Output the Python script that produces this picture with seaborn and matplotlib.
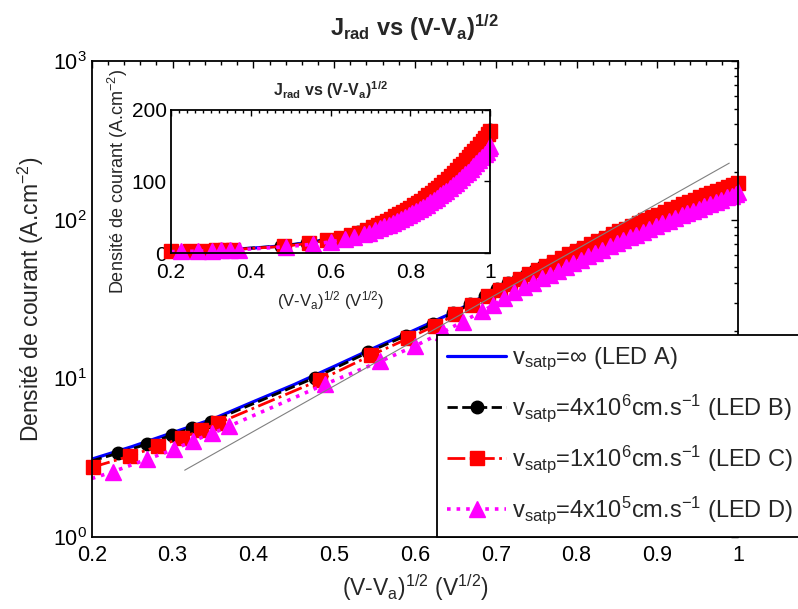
import matplotlib
matplotlib.use('Agg')
import matplotlib.pyplot as plt
from matplotlib.ticker import AutoMinorLocator, FixedLocator, FixedFormatter, NullFormatter
import seaborn as sns

# values
# LED A : v_satp = infinity (line only)
led_a_x = [0.20, 0.25, 0.30, 0.35, 0.40, 0.45, 0.50, 0.55, 0.60, 0.65, 0.70, 0.75,
           0.80, 0.85, 0.90, 0.95, 1.00]
led_a_y = [3.10, 3.72, 4.55, 5.55, 7.13, 9.12, 11.9, 15.6, 20.2, 26.4, 36.2, 48.3,
           64.0, 83.3, 108.0, 137.0, 172.0]

# LED B : v_satp = 4e6 cm/s
led_b_x = [0.200, 0.232, 0.268, 0.299, 0.324, 0.347, 0.476, 0.542, 0.589, 0.622, 0.647,
           0.668, 0.687, 0.702, 0.715, 0.727, 0.738, 0.749, 0.759, 0.769, 0.779, 0.788,
           0.797, 0.806, 0.815, 0.824, 0.833, 0.842, 0.850, 0.858, 0.866, 0.874, 0.882,
           0.890, 0.898, 0.906, 0.914, 0.922, 0.929, 0.936, 0.943, 0.950, 0.957, 0.964,
           0.971, 0.978, 0.984, 0.991, 1.000]
led_b_y = [3.02, 3.37, 3.85, 4.39, 4.88, 5.33, 10.1, 14.6, 18.6, 22.0, 25.7,
           29.3, 33.0, 36.4, 39.7, 42.0, 44.9, 47.9, 50.8, 53.8, 56.9, 59.9,
           63.0, 66.1, 69.4, 72.9, 76.5, 80.2, 83.6, 87.2, 90.9, 94.6, 98.5,
           102.6, 106.7, 111.0, 115.4, 120.0, 124.0, 128.2, 132.5, 136.9, 141.4, 146.0,
           150.7, 155.5, 159.7, 164.6, 171.0]

# LED C : v_satp = 1e6 cm/s
led_c_x = [0.201, 0.247, 0.282, 0.312, 0.335, 0.356, 0.482, 0.546, 0.592, 0.625, 0.650,
           0.671, 0.690, 0.705, 0.718, 0.730, 0.741, 0.752, 0.762, 0.772, 0.782, 0.791,
           0.800, 0.809, 0.818, 0.827, 0.836, 0.845, 0.853, 0.861, 0.869, 0.877, 0.885,
           0.893, 0.901, 0.909, 0.917, 0.925, 0.932, 0.939, 0.946, 0.953, 0.960, 0.967,
           0.974, 0.981, 0.987, 0.994, 1.000]
led_c_y = [2.76, 3.24, 3.74, 4.22, 4.72, 5.21, 9.75, 14.0, 17.9, 21.5, 25.3,
           29.0, 32.8, 36.2, 39.6, 42.5, 45.4, 48.4, 51.3, 54.3, 57.4, 60.4,
           63.5, 66.7, 70.0, 73.5, 77.1, 80.8, 84.3, 87.9, 91.6, 95.4, 99.3,
           103.4, 107.5, 111.9, 116.3, 120.9, 125.0, 129.2, 133.5, 137.9, 142.5, 147.1,
           151.8, 156.7, 160.9, 166.0, 170.5]

# LED D : v_satp = 4e5 cm/s
led_d_x = [0.200, 0.226, 0.268, 0.302, 0.325, 0.349, 0.370, 0.489, 0.557, 0.600, 0.635,
           0.659, 0.683, 0.696, 0.710, 0.723, 0.735, 0.746, 0.757, 0.767, 0.777, 0.787,
           0.796, 0.805, 0.814, 0.823, 0.832, 0.841, 0.850, 0.858, 0.866, 0.874, 0.882,
           0.890, 0.898, 0.906, 0.914, 0.922, 0.930, 0.937, 0.944, 0.951, 0.958, 0.965,
           0.972, 0.979, 0.986, 0.992, 0.997, 1.000]
led_d_y = [2.34, 2.58, 3.09, 3.57, 4.04, 4.50, 5.00, 9.2, 12.8, 16.0, 19.6,
           22.8, 26.4, 28.8, 32.0, 34.8, 37.4, 40.0, 42.6, 45.1, 47.8, 50.5,
           53.2, 55.9, 58.7, 61.6, 64.7, 67.8, 71.1, 74.2, 77.4, 80.6, 84.0,
           87.4, 91.0, 94.6, 98.5, 102.3, 106.4, 110.0, 113.7, 117.5, 121.4, 125.4,
           129.4, 133.6, 137.9, 141.6, 146.1, 150.0]

# thin grey guide line
guide_x = [0.315, 0.989]
guide_y = [2.64, 227.0]

labels = [r'v$_{\mathrm{satp}}$=$\infty$ (LED A)',
          r'v$_{\mathrm{satp}}$=4x10$^{6}$cm.s$^{-1}$ (LED B)',
          r'v$_{\mathrm{satp}}$=1x10$^{6}$cm.s$^{-1}$ (LED C)',
          r'v$_{\mathrm{satp}}$=4x10$^{5}$cm.s$^{-1}$ (LED D)']

main_xticks = [0.2, 0.3, 0.4, 0.5, 0.6, 0.7, 0.8, 0.9, 1.0]
main_xticklabels = ['0.2', '0.3', '0.4', '0.5', '0.6', '0.7', '0.8', '0.9', '1']
inset_xticks = [0.2, 0.4, 0.6, 0.8, 1.0]
inset_xticklabels = ['0.2', '0.4', '0.6', '0.8', '1']
inset_yticks = [0, 100, 200]

xlabel_txt = r'(V-V$_{\mathrm{a}}$)$^{1/2}$ (V$^{1/2}$)'
ylabel_txt = r'Densité de courant (A.cm$^{-2}$)'
title_txt = r'J$_{\mathbf{rad}}$ vs (V-V$_{\mathbf{a}}$)$^{\mathbf{1/2}}$'

sns.set_style('white')
plt.rcParams['font.family'] = ['Liberation Sans', 'DejaVu Sans']
plt.rcParams['mathtext.fontset'] = 'custom'
plt.rcParams['mathtext.rm'] = 'Liberation Sans'
plt.rcParams['mathtext.it'] = 'Liberation Sans:italic'
plt.rcParams['mathtext.bf'] = 'Liberation Sans:bold'
plt.rcParams['axes.linewidth'] = 1.3


def draw_series(ax, with_labels=True):
    lab = labels if with_labels else [None] * 4
    sns.lineplot(x=led_a_x, y=led_a_y, ax=ax, color='#0000ff', lw=2.3,
                 linestyle='-', label=lab[0], legend=False)
    sns.lineplot(x=led_b_x, y=led_b_y, ax=ax, color='black', lw=2.0,
                 linestyle='--', marker='o', markersize=9, markevery=slice(1, None),
                 markeredgecolor='black', markeredgewidth=1, label=lab[1], legend=False,
                 clip_on=False)
    sns.lineplot(x=led_c_x, y=led_c_y, ax=ax, color='#ff0000', lw=2.0,
                 linestyle='-.', marker='s', markersize=9.5,
                 markeredgecolor='#ff0000', markeredgewidth=1, label=lab[2], legend=False,
                 clip_on=False)
    sns.lineplot(x=led_d_x, y=led_d_y, ax=ax, color='#ff00ff', lw=2.6,
                 linestyle=':', marker='^', markersize=12, markevery=slice(1, None),
                 markeredgecolor='#ff00ff', markeredgewidth=1, label=lab[3], legend=False,
                 clip_on=False)


fig = plt.figure(figsize=(7.98, 6.09), dpi=100)
ax = fig.add_axes([0.115, 0.118, 0.81, 0.782])

draw_series(ax)
sns.lineplot(x=guide_x, y=guide_y, ax=ax, color='#808080', lw=0.8, legend=False)

ax.set_yscale('log')
ax.set_xlim(0.2, 1.0)
ax.set_ylim(1, 1000)
ax.xaxis.set_major_locator(FixedLocator(main_xticks))
ax.xaxis.set_major_formatter(FixedFormatter(main_xticklabels))
ax.xaxis.set_minor_locator(AutoMinorLocator(5))
ax.yaxis.set_minor_formatter(NullFormatter())
ax.tick_params(which='both', direction='in', top=True, right=True, labelsize=15.5,
               colors='black')
ax.tick_params(which='major', length=5, width=1)
ax.tick_params(which='minor', length=3, width=1)
ax.tick_params(axis='x', pad=6)
for s in ax.spines.values():
    s.set_color('black')

ax.set_xlabel(xlabel_txt, fontsize=16.5, labelpad=4)
ax.set_ylabel(ylabel_txt, fontsize=16.5, labelpad=5)
ax.set_title(title_txt, fontsize=17, fontweight='bold', pad=18)

handles, labs = ax.get_legend_handles_labels()
leg = ax.legend(handles, labs, loc='lower left', bbox_to_anchor=(0.547, 0.119),
                bbox_transform=fig.transFigure, borderaxespad=0, fontsize=17,
                frameon=True, fancybox=False, framealpha=1, edgecolor='black',
                handlelength=2.5, labelspacing=0.82, borderpad=0.45, handletextpad=0.25)
leg.get_frame().set_linewidth(1.3)

# inset, linear scale
axin = fig.add_axes([0.2143, 0.584, 0.400, 0.236])
axin.set_facecolor('white')
draw_series(axin, with_labels=False)
axin.set_xlim(0.2, 1.0)
axin.set_ylim(0, 200)
axin.xaxis.set_major_locator(FixedLocator(inset_xticks))
axin.xaxis.set_major_formatter(FixedFormatter(inset_xticklabels))
axin.yaxis.set_major_locator(FixedLocator(inset_yticks))
axin.xaxis.set_minor_locator(AutoMinorLocator(10))
axin.tick_params(which='both', direction='in', top=True, right=True, labelsize=15,
                 colors='black')
axin.tick_params(which='major', length=4, width=1)
axin.tick_params(which='minor', length=2, width=1)
axin.tick_params(axis='x', pad=7)
axin.tick_params(axis='y', pad=3)
for s in axin.spines.values():
    s.set_color('black')
axin.set_xlabel(xlabel_txt, fontsize=12, labelpad=5)
axin.set_ylabel(ylabel_txt, fontsize=13, labelpad=1)
axin.set_title(title_txt, fontsize=11.5, fontweight='bold', pad=10)

fig.savefig('out.png', dpi=100)
